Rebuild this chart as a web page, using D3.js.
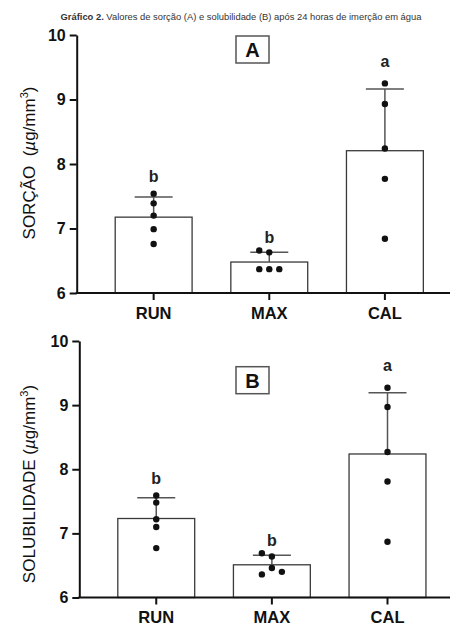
<!DOCTYPE html>
<html>
<head>
<meta charset="utf-8">
<script src="https://cdn.jsdelivr.net/npm/d3@7"></script>
<style>
  html, body { margin: 0; padding: 0; background: #fff; }
  svg { display: block; font-family: Arial, "Liberation Sans", sans-serif; }
</style>
</head>
<body>
<div id="chart"></div>
<script>
/* global d3 */
// values
const categories = ['RUN', 'MAX', 'CAL'];
const sorcao = [
  [7.54, 7.39, 7.20, 6.99, 6.76],
  [6.37, 6.37, 6.37, 6.63, 6.66],
  [9.25, 8.93, 8.24, 7.77, 6.84]
];
const solubilidade = [
  [7.59, 7.48, 7.22, 7.10, 6.77],
  [6.46, 6.36, 6.40, 6.64, 6.69],
  [9.27, 8.97, 8.27, 7.81, 6.87]
];
const letters = ['b', 'b', 'a'];
const yTicks = [6, 7, 8, 9, 10];

(function() {
  let width = 453;
  let height = 628;
  let svg = d3.select('#chart')
    .append('svg')
    .attr('width', width)
    .attr('height', height);

  svg.append('text')
    .attr('x', 241)
    .attr('y', 20)
    .attr('text-anchor', 'middle')
    .attr('font-size', 9.4)
    .attr('fill', '#333')
    .call(t => {
      t.append('tspan').attr('font-weight', 'bold').text('Gráfico 2.');
      t.append('tspan').text(' Valores de sorção (A) e solubilidade (B) após 24 horas de imerção em água');
    });

  panel({ data: sorcao, top: 35, bottom: 293, axisX: 76.7, title: 'SORÇÃO\u00a0\u00a0', titleY: 163, tag: 'A', boxY: 36 });
  panel({ data: solubilidade, top: 341, bottom: 597.5, axisX: 79.3, title: 'SOLUBILIDADE ', titleY: 484, tag: 'B', boxY: 366.7 });

  function panel(p) {
    let g = svg.append('g');
    let step = 115.8;
    let x = d3.scaleBand()
      .domain(categories)
      .range([p.axisX, p.axisX + step * 3.326])
      .paddingInner(0.335)
      .paddingOuter(0.333);
    let y = d3.scaleLinear().domain([6, 10]).range([p.bottom, p.top]);
    let stats = p.data.map((v, i) => ({
      cat: categories[i],
      values: v,
      mean: d3.mean(v),
      sd: d3.deviation(v),
      letter: letters[i]
    }));

    // bars
    g.selectAll('.bar')
      .data(stats)
      .join('rect')
      .attr('class', 'bar')
      .attr('x', d => x(d.cat))
      .attr('width', x.bandwidth())
      .attr('y', d => y(d.mean))
      .attr('height', d => y(6) - y(d.mean))
      .attr('fill', '#fff')
      .attr('stroke', '#3a3a3a')
      .attr('stroke-width', 1.3);

    // error bars (mean + SD)
    let cx = d => x(d.cat) + x.bandwidth() / 2;
    g.selectAll('.err')
      .data(stats)
      .join('line')
      .attr('x1', cx).attr('x2', cx)
      .attr('y1', d => y(d.mean))
      .attr('y2', d => y(d.mean + d.sd))
      .attr('stroke', '#555')
      .attr('stroke-width', 1.5);
    g.selectAll('.cap')
      .data(stats)
      .join('line')
      .attr('x1', d => cx(d) - 19).attr('x2', d => cx(d) + 19)
      .attr('y1', d => y(d.mean + d.sd))
      .attr('y2', d => y(d.mean + d.sd))
      .attr('stroke', '#555')
      .attr('stroke-width', 1.5);

    // points, dodged sideways when they overlap
    let pts = [];
    stats.forEach(d => {
      let placed = [];
      d.values.forEach(v => {
        let py = y(v);
        let offs = [0, -10, 10, -20, 20];
        let dx = offs.find(o => placed.every(q => q.dx !== o || Math.abs(q.py - py) > 6.7));
        placed.push({ dx, py });
        pts.push({ px: cx(d) + dx, py });
      });
    });
    g.selectAll('.pt')
      .data(pts)
      .join('circle')
      .attr('cx', d => d.px)
      .attr('cy', d => d.py)
      .attr('r', 3.2)
      .attr('fill', '#111');

    // significance letters
    let gap = [12, 7, 16.5];
    g.selectAll('.letter')
      .data(stats)
      .join('text')
      .attr('x', cx)
      .attr('y', (d, i) => y(Math.max(d3.max(d.values), d.mean + d.sd)) - gap[i])
      .attr('text-anchor', 'middle')
      .attr('font-size', 16)
      .attr('font-weight', 'bold')
      .attr('fill', '#222')
      .text(d => d.letter);

    // axes
    let yAxis = g.append('g')
      .attr('transform', `translate(${p.axisX},0)`)
      .call(d3.axisLeft(y).tickValues(yTicks).tickSize(7).tickSizeOuter(0).tickPadding(4).tickFormat(d3.format('d')));
    yAxis.select('.domain').attr('stroke', '#111').attr('stroke-width', 2);
    yAxis.selectAll('.tick line').attr('stroke', '#111').attr('stroke-width', 2);
    yAxis.selectAll('.tick text')
      .attr('font-family', 'Arial, "Liberation Sans", sans-serif')
      .attr('font-size', 16).attr('font-weight', 'bold').attr('fill', '#111');

    let xAxis = g.append('g')
      .attr('transform', `translate(0,${p.bottom})`)
      .call(d3.axisBottom(x).tickSize(7).tickSizeOuter(0).tickPadding(7));
    xAxis.select('.domain').remove();
    xAxis.selectAll('.tick line').attr('stroke', '#111').attr('stroke-width', 2);
    xAxis.selectAll('.tick text')
      .attr('font-family', 'Arial, "Liberation Sans", sans-serif')
      .attr('font-size', 16.5).attr('font-weight', 'bold').attr('fill', '#111');
    g.append('line')
      .attr('x1', p.axisX - 1).attr('x2', 450)
      .attr('y1', p.bottom).attr('y2', p.bottom)
      .attr('stroke', '#111').attr('stroke-width', 2);

    // y title
    g.append('text')
      .attr('transform', `translate(35,${p.titleY}) rotate(-90)`)
      .attr('text-anchor', 'middle')
      .attr('font-size', 17)
      .attr('fill', '#111')
      .call(t => {
        t.append('tspan').text(p.title + '(');
        t.append('tspan').attr('font-style', 'italic').text('µ');
        t.append('tspan').text('g/mm');
        t.append('tspan').attr('font-size', 11).attr('dy', -7).text('3');
        t.append('tspan').attr('dy', 7).text(')');
      });

    // panel tag box
    g.append('rect')
      .attr('x', 236).attr('y', p.boxY)
      .attr('width', 33).attr('height', 27)
      .attr('fill', '#fff')
      .attr('stroke', '#555')
      .attr('stroke-width', 1.5);
    g.append('text')
      .attr('x', 252.5).attr('y', p.boxY + 21)
      .attr('text-anchor', 'middle')
      .attr('font-size', 20)
      .attr('font-weight', 'bold')
      .attr('fill', '#111')
      .text(p.tag);
  }
})();
</script>
</body>
</html>
